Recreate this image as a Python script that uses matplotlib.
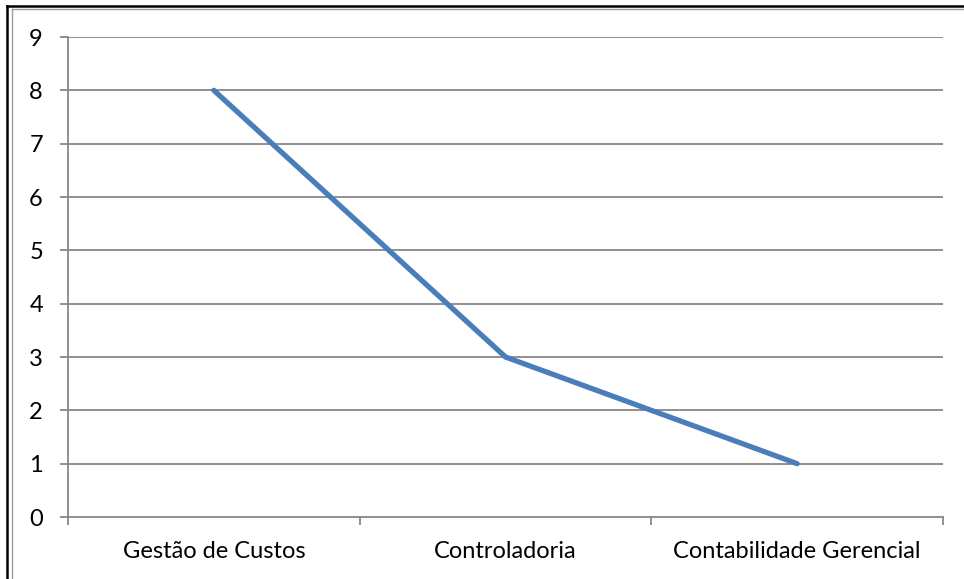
import matplotlib
matplotlib.use("Agg")
import matplotlib.pyplot as plt
from matplotlib.lines import Line2D

categories = ["Gestão de Custos", "Controladoria", "Contabilidade Gerencial"]
values = [8, 3, 1]
yticks = list(range(0, 10))

plt.rcParams['font.family'] = ['Lato', 'DejaVu Sans']

W, H = 964, 579
fig = plt.figure(figsize=(W / 100, H / 100), dpi=100)
ax = fig.add_axes([68 / W, 1 - 517 / H, (943 - 68) / W, (517 - 37) / H])

x = [i + 0.5 for i in range(len(categories))]
ax.plot(x, values, color="#4A7EBB", lw=3.8, solid_capstyle="round", solid_joinstyle="miter", zorder=3)

ax.set_xlim(0, len(categories))
ax.set_ylim(0, 9)
ax.set_yticks(yticks)
ax.set_yticklabels([str(t) for t in yticks])
ax.set_xticks(x)
ax.set_xticklabels(categories)
ax.set_xticks(range(0, len(categories) + 1), minor=True)

grid_c = "#878787"
for t in yticks[1:]:
    ax.axhline(t, color=grid_c, lw=1.3, zorder=1)
for s in ["top", "right"]:
    ax.spines[s].set_visible(False)
for s in ["left", "bottom"]:
    ax.spines[s].set_color(grid_c)
    ax.spines[s].set_linewidth(1.3)

fs = 17
ax.tick_params(axis="y", length=6, width=1.3, color=grid_c, pad=12, labelsize=fs, labelcolor="black")
ax.tick_params(axis="x", which="major", length=0, pad=17, labelsize=fs, labelcolor="black")
ax.tick_params(axis="x", which="minor", length=6, width=1.3, color=grid_c)

# outer frame
fig.add_artist(Line2D([7 / W, 7 / W], [0, 1 - 6 / H], transform=fig.transFigure, color="black", lw=1.8))
fig.add_artist(Line2D([7 / W, 1], [1 - 6 / H, 1 - 6 / H], transform=fig.transFigure, color="black", lw=1.8))
fig.add_artist(Line2D([12 / W, 12 / W], [0, 1 - 9 / H], transform=fig.transFigure, color="#9a9a9a", lw=1.0))
fig.add_artist(Line2D([12 / W, 1], [1 - 9 / H, 1 - 9 / H], transform=fig.transFigure, color="#9a9a9a", lw=1.0))

fig.savefig("out.png", dpi=100)
